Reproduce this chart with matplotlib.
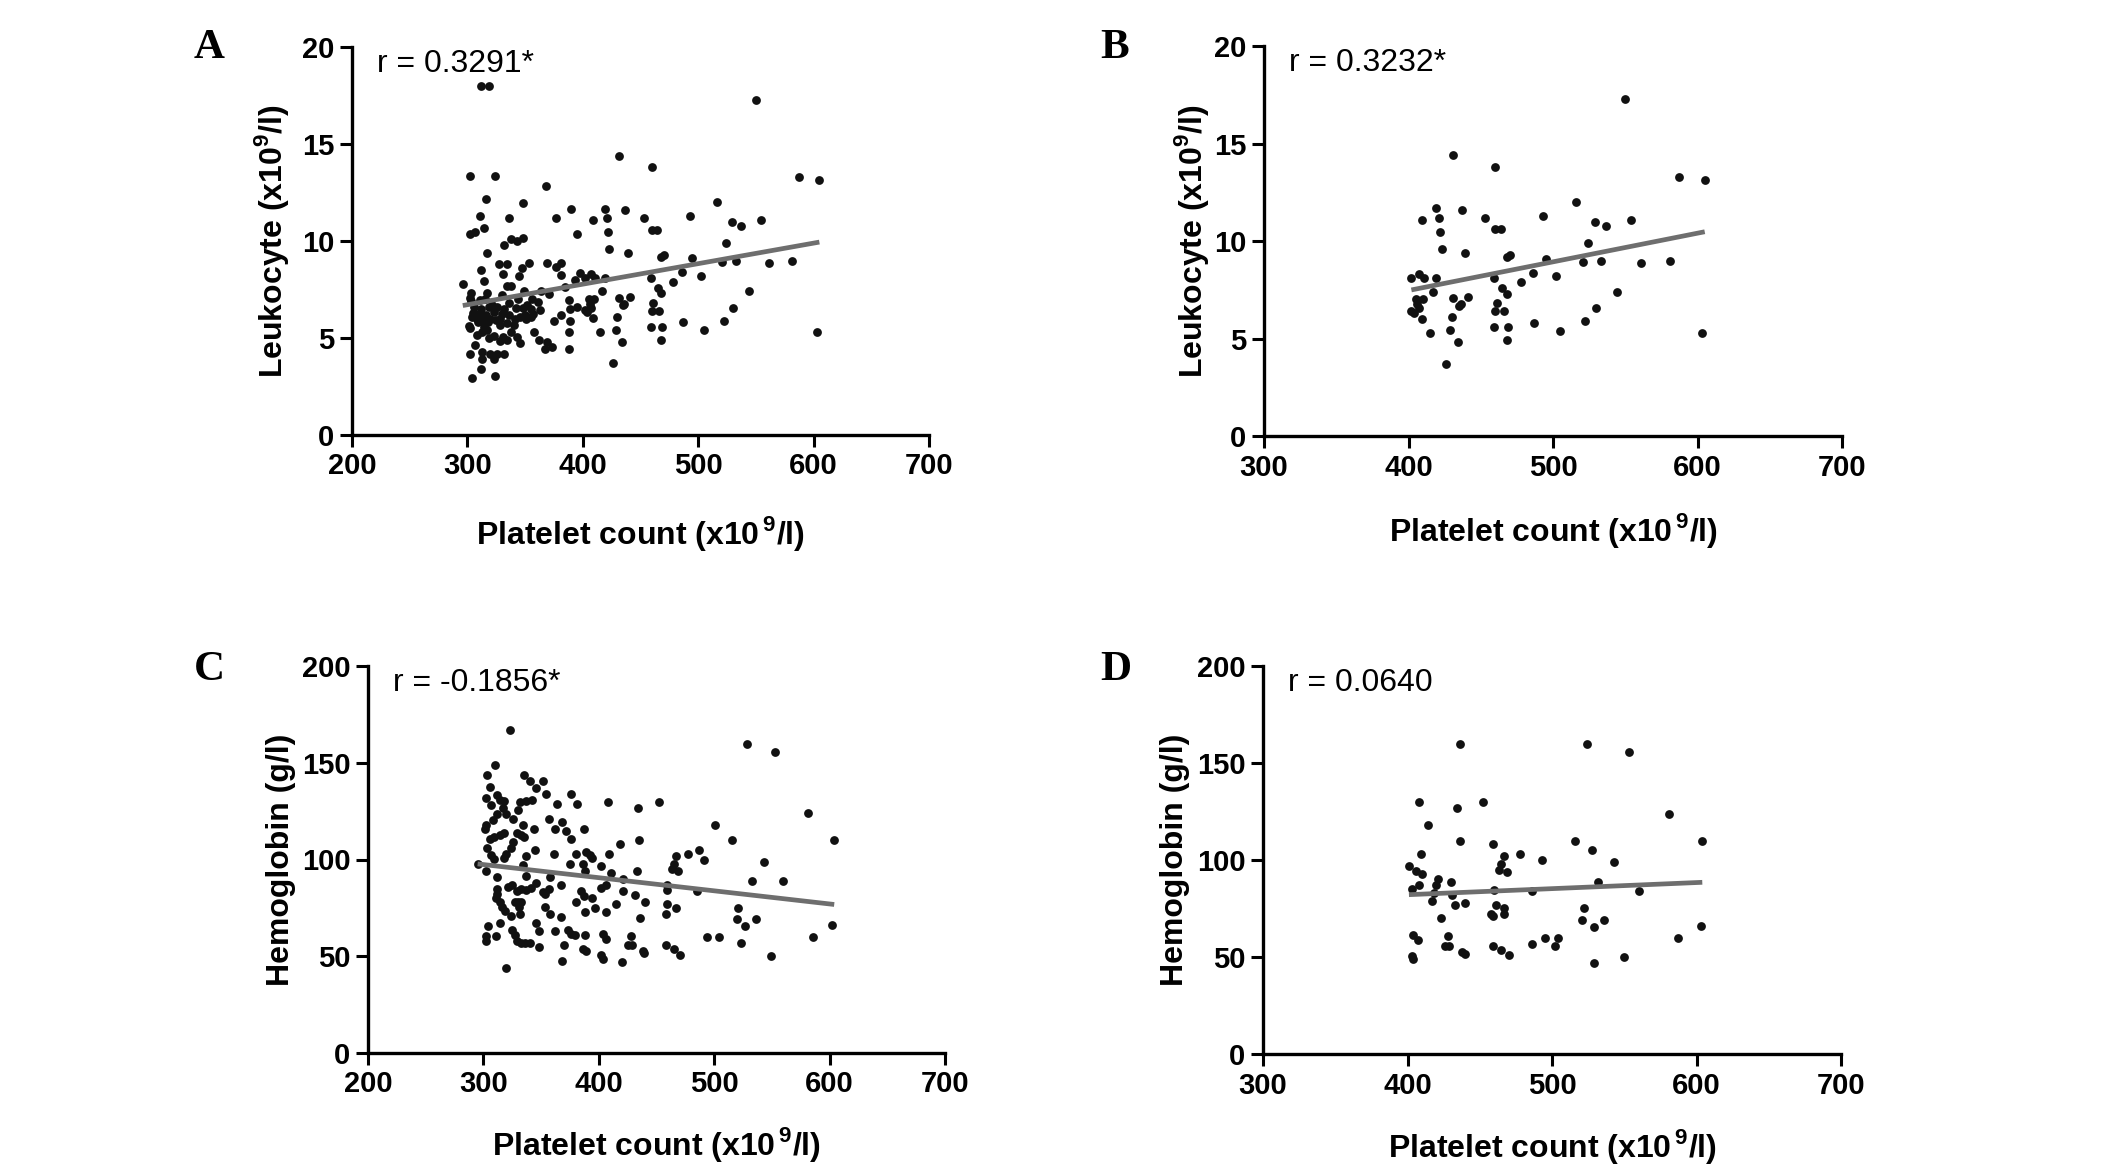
import numpy as np
import matplotlib
matplotlib.use("Agg")
import matplotlib.pyplot as plt

plt.rcParams['font.family'] = ['Liberation Sans', 'DejaVu Sans']
plt.rcParams['mathtext.fontset'] = 'custom'
plt.rcParams['mathtext.rm'] = 'Liberation Sans'
plt.rcParams['mathtext.bf'] = 'Liberation Sans:bold'

# --- data ---
# panel B: platelet >= 400 subgroup, leukocyte
b_plt = [550, 431, 460, 587, 605, 516, 419, 437, 421, 409, 453, 493, 529, 537, 554,
         460, 464, 422, 524, 423, 439, 470, 468, 495, 521, 533, 561, 581, 486, 407,
         402, 411, 419, 459, 502, 478, 465, 468, 417, 544, 405, 410, 431, 441, 436,
         435, 461, 406, 530, 402, 404, 407, 460, 466, 409, 430, 522, 487, 459, 469,
         429, 505, 415, 603, 468, 434, 426]
b_wbc = [17.26, 14.4, 13.8, 13.3, 13.15, 12.0, 11.67, 11.58, 11.19, 11.08, 11.17, 11.29, 11.0, 10.79, 11.08,
         10.59, 10.59, 10.48, 9.88, 9.6, 9.38, 9.29, 9.17, 9.1, 8.93, 8.98, 8.86, 8.98, 8.38, 8.31,
         8.09, 8.09, 8.09, 8.09, 8.18, 7.9, 7.57, 7.3, 7.4, 7.4, 7.02, 7.02, 7.07, 7.13, 6.75,
         6.68, 6.8, 6.75, 6.57, 6.42, 6.33, 6.57, 6.39, 6.39, 6.02, 6.08, 5.89, 5.8, 5.59, 5.59,
         5.42, 5.4, 5.3, 5.3, 4.9, 4.8, 3.7]

# panel A: remaining patients with platelet < 400 (A = these + B)
a_plt_low = [312, 319, 302, 324, 368, 316, 348, 390, 311, 336, 377, 314, 302, 307, 395,
             348, 343, 338, 332, 317, 327, 334, 353, 369, 381, 347, 377, 312, 331, 345,
             381, 398, 314, 296, 334, 338, 317, 303, 330, 349, 364, 371, 385, 393, 302,
             311, 388, 356, 361, 319, 342, 348, 355, 395, 389, 305, 310, 323, 330, 336,
             350, 357, 363, 314, 320, 325, 334, 346, 351, 355, 381, 375, 389, 301, 302,
             314, 317, 328, 340, 323, 331, 328, 334, 343, 346, 308, 358, 362, 369, 367,
             373, 388, 388, 307, 302, 313, 313, 320, 323, 326, 332, 312, 304, 324,
             303, 306, 308, 312, 316, 318, 321, 326, 328, 332, 338, 341, 315, 309, 304,
             313, 319, 336, 344, 352]
a_wbc_low = [18.0, 18.0, 13.34, 13.34, 12.83, 12.14, 11.97, 11.66, 11.29, 11.17, 11.17, 10.67, 10.34, 10.48, 10.38,
             10.17, 10.0, 10.1, 9.78, 9.38, 8.8, 8.8, 8.88, 8.88, 8.88, 8.61, 8.66, 8.5, 8.28, 8.18,
             8.27, 8.37, 7.94, 7.8, 7.67, 7.67, 7.32, 7.34, 7.2, 7.43, 7.41, 7.26, 7.63, 8.01, 7.08,
             6.95, 6.95, 7.03, 6.86, 6.6, 6.55, 6.55, 6.52, 6.6, 6.48, 6.3, 6.23, 6.35, 6.23, 6.17,
             6.17, 6.26, 6.43, 5.92, 6.0, 5.92, 5.75, 6.09, 6.0, 6.09, 6.17, 5.88, 5.88, 5.63, 5.52,
             5.57, 5.4, 5.68, 5.66, 5.09, 5.06, 4.85, 4.89, 5.06, 4.72, 5.15, 5.32, 4.92, 4.8, 4.44,
             4.55, 5.32, 4.44, 4.63, 4.2, 4.29, 3.91, 4.2, 3.91, 4.2, 4.2, 3.41, 2.92, 3.04,
             6.9, 6.6, 6.0, 6.5, 6.2, 5.8, 6.7, 6.6, 6.0, 6.5, 5.3, 6.0, 7.0, 5.8, 6.1,
             5.3, 5.0, 6.8, 7.0, 6.7]

# panel C: all patients, hemoglobin
c_plt = [323, 310, 303, 335, 340, 352, 306, 346, 354, 376, 312, 302, 314, 318, 307,
         332, 337, 342, 364, 381, 317, 312, 320, 326, 308, 357, 368, 330, 302, 301,
         334, 344, 362, 372, 387, 376, 306, 309, 314, 318, 329, 333, 335, 326, 324,
         320, 318, 303, 307, 309, 345, 337, 361, 380, 389, 392, 394, 295, 302, 334,
         337, 358, 375, 386, 388, 312, 321, 325, 329, 333, 337, 341, 346, 352, 357,
         367, 385, 312, 312, 311, 314, 316, 319, 324, 327, 330, 333, 331, 332, 353,
         353, 358, 380, 387, 388, 394, 397, 367, 346, 348, 362, 304, 314, 302, 302,
         311, 325, 327, 329, 333, 336, 340, 348, 373, 376, 379, 388, 370, 386, 389,
         368, 320,
         528, 553, 408, 452, 434, 581, 501, 435, 515, 604, 418, 487, 409, 467, 477,
         491, 543, 402, 463, 465, 469, 433, 411, 421, 533, 560, 459, 406, 402, 459,
         485, 421, 431, 415, 440, 459, 467, 521, 458, 406, 436, 520, 536, 527, 602,
         404, 406, 428, 494, 504, 586, 523, 425, 429, 458, 465, 438, 439, 470, 402,
         404, 549, 420]
c_hb = [166.9, 148.7, 143.5, 143.5, 140.6, 140.6, 137.7, 136.7, 133.7, 133.7, 133.2, 132.0, 130.8, 130.3, 128.1,
        129.8, 130.0, 130.6, 128.9, 128.6, 126.8, 123.4, 123.4, 120.8, 120.3, 120.8, 119.6, 125.6, 117.9, 115.7,
        117.9, 115.7, 115.7, 114.8, 115.7, 110.5, 110.5, 111.7, 112.7, 113.9, 113.9, 112.7, 111.4, 108.8, 105.9,
        102.8, 101.0, 105.9, 102.4, 100.2, 104.8, 101.9, 102.8, 102.8, 104.1, 102.4, 100.7, 97.9, 94.1, 97.1,
        91.6, 91.0, 97.6, 97.6, 94.1, 90.7, 85.9, 86.9, 83.8, 84.7, 84.2, 85.5, 88.1, 83.3, 84.7,
        86.7, 83.8, 84.7, 82.1, 80.0, 77.8, 75.6, 73.5, 70.9, 77.8, 77.8, 77.8, 75.2, 71.8, 82.4,
        75.2, 71.8, 77.8, 81.2, 73.0, 79.9, 74.9, 70.1, 67.0, 62.8, 62.8, 65.7, 67.0, 60.6, 58.0,
        60.6, 63.5, 61.1, 58.0, 56.6, 56.6, 56.6, 54.9, 63.5, 61.4, 60.9, 60.9, 55.8, 53.7, 52.8,
        47.7, 43.9,
        159.8, 155.8, 129.9, 129.9, 126.8, 123.9, 117.9, 109.9, 109.9, 109.9, 108.2, 105.1, 103.0, 102.0, 103.0,
        99.9, 98.9, 96.8, 95.3, 97.5, 93.9, 93.9, 93.0, 90.1, 88.9, 88.9, 87.0, 87.0, 85.1, 84.4,
        83.9, 83.9, 81.8, 77.1, 78.0, 76.8, 75.1, 75.1, 72.0, 72.8, 69.9, 69.0, 69.0, 65.6, 65.9,
        61.3, 58.8, 60.7, 59.9, 59.9, 59.9, 56.8, 55.9, 55.9, 55.9, 53.8, 52.8, 51.8, 50.9, 50.4,
        48.8, 49.9, 46.8]

# panel D: platelet >= 400 subgroup, hemoglobin
d_plt = [436, 524, 553, 408, 452, 434, 581, 414, 436, 516, 604, 459, 528, 409, 467,
         478, 493, 543, 401, 465, 406, 410, 463, 469, 421, 430, 532, 408, 420, 403,
         418, 460, 486, 560, 431, 417, 440, 433, 461, 467, 522, 458, 467, 459, 423,
         521, 536, 529, 603, 404, 428, 407, 495, 504, 587, 486, 426, 429, 459, 502,
         465, 438, 440, 470, 403, 404, 550, 529]
d_hb = [159.8, 159.8, 155.8, 129.9, 129.9, 126.8, 123.9, 117.9, 109.9, 109.9, 109.9, 108.2, 105.1, 103.0, 102.0,
        103.0, 99.9, 98.9, 96.8, 97.8, 94.2, 93.0, 94.9, 93.9, 90.1, 88.9, 88.9, 87.0, 87.0, 85.1,
        83.2, 84.4, 83.9, 83.9, 81.8, 78.9, 78.0, 76.8, 76.8, 75.1, 75.1, 72.0, 72.0, 70.9, 69.9,
        69.0, 69.0, 65.6, 65.9, 61.3, 60.7, 58.8, 59.9, 59.9, 59.9, 56.8, 55.9, 55.9, 55.9, 55.9,
        53.8, 52.8, 51.8, 50.9, 50.4, 48.8, 49.9, 46.8]

r_labels = ['r = 0.3291*', 'r = 0.3232*', 'r = -0.1856*', 'r = 0.0640']
panel_letters = ['A', 'B', 'C', 'D']

a_plt = a_plt_low + b_plt
a_wbc = a_wbc_low + b_wbc

# --- layout (pixels in a 2126x1174 canvas) ---
W, H = 2126, 1174
fig = plt.figure(figsize=(W / 100, H / 100), dpi=100)


def add_px_axes(left, right, top, bottom):
    return fig.add_axes([left / W, 1 - bottom / H, (right - left) / W, (bottom - top) / H])


xlab = 'Platelet count (x10$^{\\,\\mathregular{9}}$/l)'
wbc_lab = 'Leukocyte (x10$^{\\mathregular{9}}$/l)'
hb_lab = 'Hemoglobin (g/l)'

panels = [
    (a_plt, a_wbc, (352, 929, 47, 435), (200, 700), (0, 20), 5, wbc_lab),
    (b_plt, b_wbc, (1264, 1842, 46, 436), (300, 700), (0, 20), 5, wbc_lab),
    (c_plt, c_hb, (368, 945, 666, 1053), (200, 700), (0, 200), 50, hb_lab),
    (d_plt, d_hb, (1263, 1841, 666, 1054), (300, 700), (0, 200), 50, hb_lab),
]
letter_pos = [(194, 58), (1100, 58), (194, 680), (1100, 680)]
xpads = [24, 21, 19, 20]
ypads = [8, 2, 4, 5]

for i, (x, y, box, xlim, ylim, ystep, ylab) in enumerate(panels):
    ax = add_px_axes(*box)
    x = np.array(x, dtype=float)
    y = np.array(y, dtype=float)
    ax.scatter(x, y, s=40, color='#111111', linewidths=0, zorder=2)

    # linear regression line
    k, b = np.polyfit(x, y, 1)
    xs = np.array([x.min(), x.max()])
    ax.plot(xs, k * xs + b, color='#6e6e6e', lw=3.4, zorder=3, solid_capstyle='butt')

    ax.set_xlim(*xlim)
    ax.set_ylim(*ylim)
    ax.set_xticks(np.arange(xlim[0], xlim[1] + 1, 100))
    ax.set_yticks(np.arange(ylim[0], ylim[1] + 1, ystep))
    for s in ['top', 'right']:
        ax.spines[s].set_visible(False)
    for s in ['left', 'bottom']:
        ax.spines[s].set_linewidth(2.4)
    ax.tick_params(direction='out', length=8.6, width=2.2, labelsize=21, pad=4)
    for lab in ax.get_xticklabels() + ax.get_yticklabels():
        lab.set_fontweight('bold')

    ax.set_xlabel(xlab, fontsize=23, fontweight='bold', labelpad=xpads[i])
    ax.set_ylabel(ylab, fontsize=23, fontweight='bold', labelpad=ypads[i])

    ax.text(0.043, 0.936, r_labels[i], transform=ax.transAxes, fontsize=23,
            ha='left', va='baseline')

    lx, ly = letter_pos[i]
    fig.text(lx / W, 1 - ly / H, panel_letters[i], fontsize=31, fontweight='bold',
             family='Liberation Serif', ha='left', va='baseline')

fig.savefig('out.png', dpi=100)
